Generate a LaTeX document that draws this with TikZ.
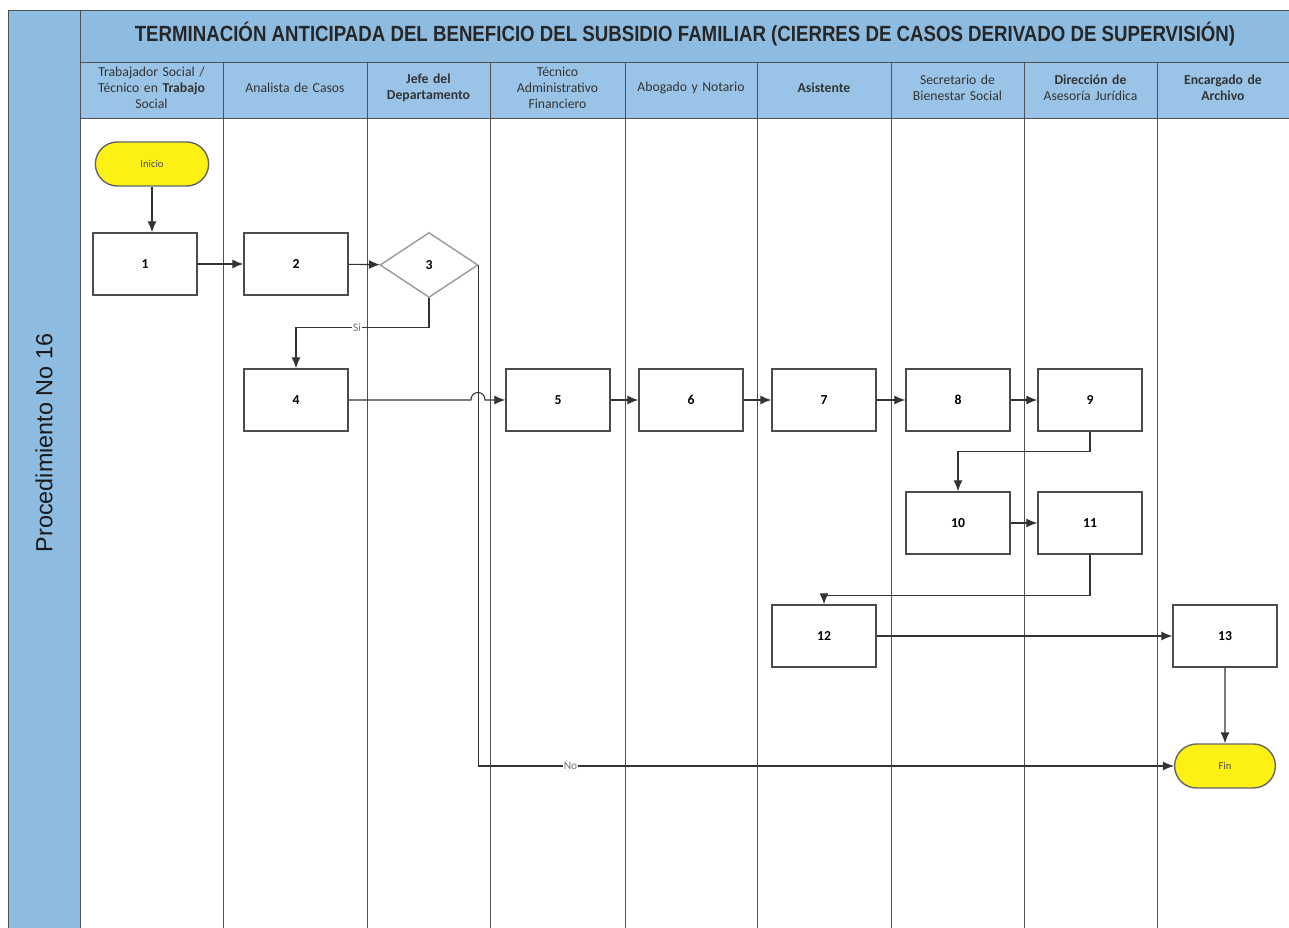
\documentclass[tikz,border=0pt]{standalone}
\usepackage{fontspec}
\setmainfont{Carlito}
\newfontfamily\arialfont{Liberation Sans}
\usetikzlibrary{shapes.geometric,shapes.misc,arrows.meta}

\definecolor{bandblue}{RGB}{142,187,224}
\definecolor{headblue}{RGB}{154,196,231}
\definecolor{stepyellow}{RGB}{252,240,20}
\definecolor{lanegray}{RGB}{80,80,80}

\begin{document}
\begin{tikzpicture}[x=0.02cm, y=-0.02cm,
  paso/.style={rectangle, draw=black!70, line width=0.8pt, fill=white,
               minimum width=2.08cm, minimum height=1.24cm,
               font=\fontsize{7.8}{9}\selectfont\bfseries},
  decision/.style={diamond, draw=black!40, line width=0.8pt, fill=white,
                   minimum width=1.96cm, minimum height=1.3cm, inner sep=0pt,
                   font=\fontsize{7.8}{9}\selectfont\bfseries},
  terminal/.style={rounded rectangle, draw=black!60, line width=0.8pt,
                   fill=stepyellow, minimum height=0.88cm,
                   font=\fontsize{6}{7}\selectfont, text=black!70},
  cabecera/.style={align=center, text=black!80, text width=2.7cm,
                   font=\fontsize{7.8}{9}\selectfont},
  lane/.style={draw=lanegray, line width=0.5pt},
  flecha/.style={-{Latex[length=2.2mm,width=1.8mm]}, draw=black!80, line width=0.6pt},
  etiqueta/.style={fill=white, inner sep=0.5pt, text=black!55,
                   font=\fontsize{6.5}{7}\selectfont}
]
  \useasboundingbox (0,0) rectangle (1289,928);

  % Bands and header
  \fill[bandblue] (8,10) rectangle (1289,62);
  \fill[bandblue] (8,10) rectangle (80,928);
  \fill[headblue] (80,62) rectangle (1289,118);
  \draw[lane] (8,928) -- (8,10) -- (1289,10);
  \draw[lane] (80,10) -- (80,928);
  \draw[lane] (80,62) -- (1289,62);
  \draw[lane] (80,118) -- (1289,118);
  \foreach \x in {223,367,490,625,757,891,1024,1157}
    \draw[lane] (\x,62) -- (\x,928);

  \node[text=black!85, font=\arialfont\bfseries\fontsize{12.5}{14}\selectfont] (titulo) at (685,34)
    {\scalebox{0.85}[1]{TERMINACIÓN ANTICIPADA DEL BENEFICIO DEL SUBSIDIO FAMILIAR (CIERRES DE CASOS DERIVADO DE SUPERVISIÓN)}};
  \node[rotate=90, text=black!90, font=\arialfont\fontsize{13.3}{15}\selectfont] (proc) at (44,443)
    {Procedimiento No 16};

  % Lane titles
  \foreach \cx/\txt [count=\i] in {
      151.5/{Trabajador Social /\\Técnico en \textbf{Trabajo}\\Social},
      295/{Analista de Casos},
      428.5/{\textbf{Jefe del}\\\textbf{Departamento}},
      557.5/{Técnico\\Administrativo\\Financiero},
      691/{Abogado y Notario},
      824/{\textbf{Asistente}},
      957.5/{Secretario de\\Bienestar Social},
      1090.5/{\textbf{Dirección de}\\Asesoría Jurídica},
      1223/{\textbf{Encargado de}\\\textbf{Archivo}}}
    \node[cabecera] (h\i) at (\cx,88) {\txt};

  % Steps
  \node[terminal, minimum width=2.5cm] (inicio) at (152,164) {Inicio};
  \node[paso] (n1) at (145,264) {1};
  \node[paso] (n2) at (296,264) {2};
  \node[decision] (n3) at (429,265) {3};
  \node[paso] (n4) at (296,400) {4};
  \node[paso] (n5) at (558,400) {5};
  \node[paso] (n6) at (691,400) {6};
  \node[paso] (n7) at (824,400) {7};
  \node[paso] (n8) at (958,400) {8};
  \node[paso] (n9) at (1090,400) {9};
  \node[paso] (n10) at (958,523) {10};
  \node[paso] (n11) at (1090,523) {11};
  \node[paso] (n12) at (824,636) {12};
  \node[paso] (n13) at (1225,636) {13};
  \node[terminal, minimum width=2.25cm] (fin) at (1225,766) {Fin};

  % Connectors
  \draw[flecha] (inicio.south) -- (inicio.south |- n1.north);
  \draw[flecha] (n1) -- (n2);
  \draw[flecha] (n2) -- (n3);
  \draw[flecha] (n3.south) -- ++(0,29) -| node[etiqueta, pos=0.27] {Si} (n4.north);
  \draw[flecha] (n3.east) |- node[etiqueta, pos=0.566] {No} (fin.west);
  \draw[flecha] (n4.east) -- (471,400) .. controls (471,390) and (485,390) .. (485,400) -- (n5.west);
  \draw[flecha] (n5) -- (n6);
  \draw[flecha] (n6) -- (n7);
  \draw[flecha] (n7) -- (n8);
  \draw[flecha] (n8) -- (n9);
  \draw[flecha] (n9.south) -- ++(0,20) -| (n10.north);
  \draw[flecha] (n10) -- (n11);
  \draw[flecha] (n11.south) -- ++(0,41) -| (n12.north);
  \draw[flecha] (n12) -- (n13);
  \draw[flecha] (n13) -- (fin);
\end{tikzpicture}
\end{document}
